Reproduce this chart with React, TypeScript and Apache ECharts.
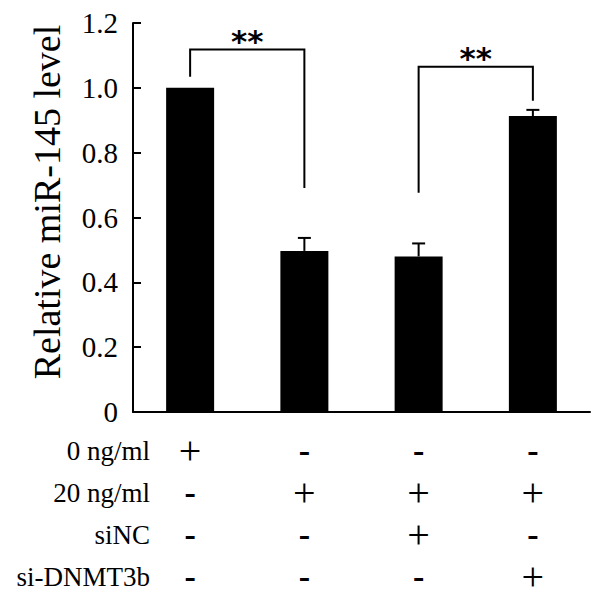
import React, { useEffect, useRef } from 'react';
import * as echarts from 'echarts';

const categories = ['G1', 'G2', 'G3', 'G4'];
const means = [1.0, 0.497, 0.48, 0.913];
const errors = [0, 0.04, 0.04, 0.019];
const rowLabels = ['0 ng/ml', '20 ng/ml', 'siNC', 'si-DNMT3b'];
const rowDose0 = ['+', '-', '-', '-'];
const rowDose20 = ['-', '+', '+', '+'];
const rowSiNC = ['-', '-', '+', '-'];
const rowSiDNMT3b = ['-', '-', '-', '+'];
const treatmentRows = [rowDose0, rowDose20, rowSiNC, rowSiDNMT3b];
const bracketFrom = [0, 2];
const bracketTo = [1, 3];
const bracketTop = [1.118, 1.065];
const bracketLeftEnd = [1.034, 0.676];
const bracketRightEnd = [0.691, 0.96];
const bracketLabel = ['**', '**'];

const SERIF = 'Liberation Serif';

export default function App() {
  const ref = useRef<HTMLDivElement>(null);
  useEffect(() => {
    document.body.style.margin = '0';
    if (!ref.current) return;
    const chart = echarts.init(ref.current, undefined, { renderer: 'svg' });
    const gridTop = 23;
    const gridBottom = 186;
    const rowY0 = 598 - gridBottom + 39;
    const rowStep = 42;
    chart.setOption({
      animation: false,
      backgroundColor: '#fff',
      grid: { left: 133, right: 10, top: gridTop, bottom: gridBottom },
      xAxis: {
        type: 'category',
        data: categories,
        axisLine: { lineStyle: { color: '#000', width: 2 } },
        axisTick: { inside: true, length: 10, lineStyle: { color: '#000', width: 2 } },
        axisLabel: {
          interval: 0,
          margin: 17,
          formatter: (_v: string, idx: number) =>
            treatmentRows.map((r) => (r[idx] === '+' ? '{p|+}' : '{m|-}')).join('\n'),
          rich: {
            p: { fontSize: 40, fontFamily: SERIF, color: '#000', lineHeight: rowStep, height: rowStep },
            m: { fontSize: 34, fontWeight: 'bold', fontFamily: SERIF, color: '#000', lineHeight: rowStep, height: rowStep },
          },
        },
      },
      yAxis: {
        type: 'value',
        min: 0,
        max: 1.2,
        interval: 0.2,
        axisLine: { show: true, lineStyle: { color: '#000', width: 2 } },
        axisTick: { show: true, inside: true, length: 8, lineStyle: { color: '#000', width: 2 } },
        splitLine: { show: false },
        axisLabel: {
          margin: 15,
          fontSize: 29,
          fontFamily: SERIF,
          color: '#000',
          formatter: (v: number) => (v === 0 ? '0' : v.toFixed(1)),
        },
      },
      graphic: [
        {
          type: 'text',
          x: 47,
          y: 202,
          rotation: Math.PI / 2,
          style: {
            text: 'Relative miR-145 level',
            fontSize: 38,
            fontFamily: SERIF,
            fill: '#000',
            textAlign: 'center',
            textVerticalAlign: 'middle',
          },
        },
        ...rowLabels.map((t, i) => ({
          type: 'text',
          x: 150,
          y: rowY0 + i * 42,
          style: {
            text: t,
            fontSize: 27,
            fontFamily: SERIF,
            fill: '#000',
            textAlign: 'right',
            textVerticalAlign: 'middle',
          },
        })),
      ],
      series: [
        {
          type: 'bar',
          data: means,
          barWidth: 48,
          itemStyle: { color: '#000' },
        },
        {
          type: 'custom',
          clip: false,
          data: means.map((m, i) => [i, m, m + errors[i]]),
          renderItem: (_p: any, api: any) => {
            const i = api.value(0);
            const m = api.value(1);
            const t = api.value(2);
            if (t - m <= 0) return { type: 'group', children: [] };
            const a = api.coord([i, m]);
            const b = api.coord([i, t]);
            const style = { stroke: '#000', lineWidth: 2 };
            return {
              type: 'group',
              children: [
                { type: 'line', shape: { x1: a[0], y1: a[1], x2: b[0], y2: b[1] }, style },
                { type: 'line', shape: { x1: b[0] - 6.5, y1: b[1], x2: b[0] + 6.5, y2: b[1] }, style },
              ],
            };
          },
        },
        {
          type: 'custom',
          clip: false,
          data: bracketFrom.map((f, i) => [f, bracketTo[i], bracketTop[i], bracketLeftEnd[i], bracketRightEnd[i]]),
          renderItem: (p: any, api: any) => {
            const f = api.value(0);
            const t = api.value(1);
            const top = api.value(2);
            const le = api.value(3);
            const re = api.value(4);
            const p1 = api.coord([f, le]);
            const p2 = api.coord([f, top]);
            const p3 = api.coord([t, top]);
            const p4 = api.coord([t, re]);
            return {
              type: 'group',
              children: [
                {
                  type: 'polyline',
                  shape: { points: [p1, p2, p3, p4] },
                  style: { stroke: '#000', lineWidth: 2, fill: 'none' },
                },
                {
                  type: 'text',
                  x: (p2[0] + p3[0]) / 2,
                  y: p2[1] - 9,
                  style: {
                    text: bracketLabel[p.dataIndex],
                    fontSize: 31,
                    fontWeight: 'bold',
                    fontFamily: 'DejaVu Sans',
                    fill: '#000',
                    textAlign: 'center',
                    textVerticalAlign: 'middle',
                  },
                },
              ],
            };
          },
        },
      ],
    });
    return () => chart.dispose();
  }, []);
  return <div ref={ref} style={{ width: 600, height: 598 }} />;
}
